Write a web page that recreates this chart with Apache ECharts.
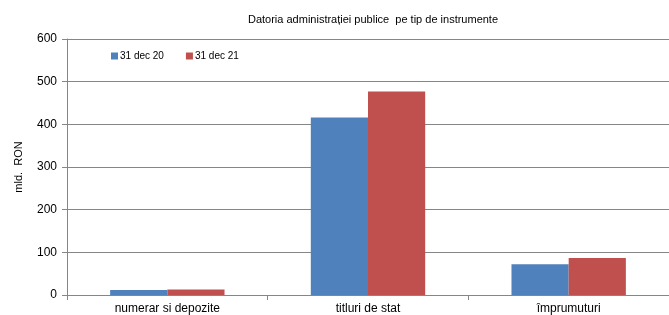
<!DOCTYPE html>
<html><head><meta charset="utf-8">
<script src="https://cdn.jsdelivr.net/npm/echarts@6/dist/echarts.min.js"></script>
<style>html,body{margin:0;padding:0;background:#fff}#c{width:669px;height:315px}</style>
</head><body><div id="c"></div>
<script>
const categories = ['numerar si depozite', 'titluri de stat', 'împrumuturi'];
const dec20 = [12, 416, 72];
const dec21 = [13, 477, 87];
const seriesNames = ['31 dec 20', '31 dec 21'];
const font = 'Liberation Sans, Arial, sans-serif';
const chart = echarts.init(document.getElementById('c'), null, {renderer: 'canvas'});
chart.setOption({
  animation: false,
  backgroundColor: '#fff',
  title: {text: 'Datoria administrației publice  pe tip de instrumente', left: 368, textAlign: 'center', top: 9,
    textStyle: {fontFamily: font, fontSize: 11, fontWeight: 'normal', color: '#000'}},
  legend: {left: 106, top: 46, itemWidth: 7, itemHeight: 7, itemGap: 22, icon: 'rect',
    textStyle: {fontFamily: font, fontSize: 10, color: '#000', padding: [0, 0, 0, -3]},
    data: seriesNames},
  grid: {left: 67, right: -4, top: 39, bottom: 19, containLabel: false},
  xAxis: {type: 'category', data: categories,
    axisLine: {lineStyle: {color: '#868686'}},
    axisTick: {show: true, length: 5, lineStyle: {color: '#868686'}},
    axisLabel: {fontFamily: font, fontSize: 12, color: '#000', margin: 8}},
  yAxis: {type: 'value', min: 0, max: 600, interval: 100, name: 'mld.  RON', nameLocation: 'middle', nameGap: 43,
    nameTextStyle: {fontFamily: font, fontSize: 11, color: '#000'},
    axisLine: {show: true, lineStyle: {color: '#868686'}},
    axisTick: {show: true, length: 5, lineStyle: {color: '#868686'}},
    splitLine: {lineStyle: {color: '#868686'}},
    axisLabel: {fontFamily: font, fontSize: 12, color: '#000', margin: 10}},
  series: [
    {name: seriesNames[0], type: 'bar', data: dec20, barGap: '0%', barCategoryGap: '43%', itemStyle: {color: '#4F81BD'}},
    {name: seriesNames[1], type: 'bar', data: dec21, itemStyle: {color: '#C0504D'}}
  ]
});
</script></body></html>
